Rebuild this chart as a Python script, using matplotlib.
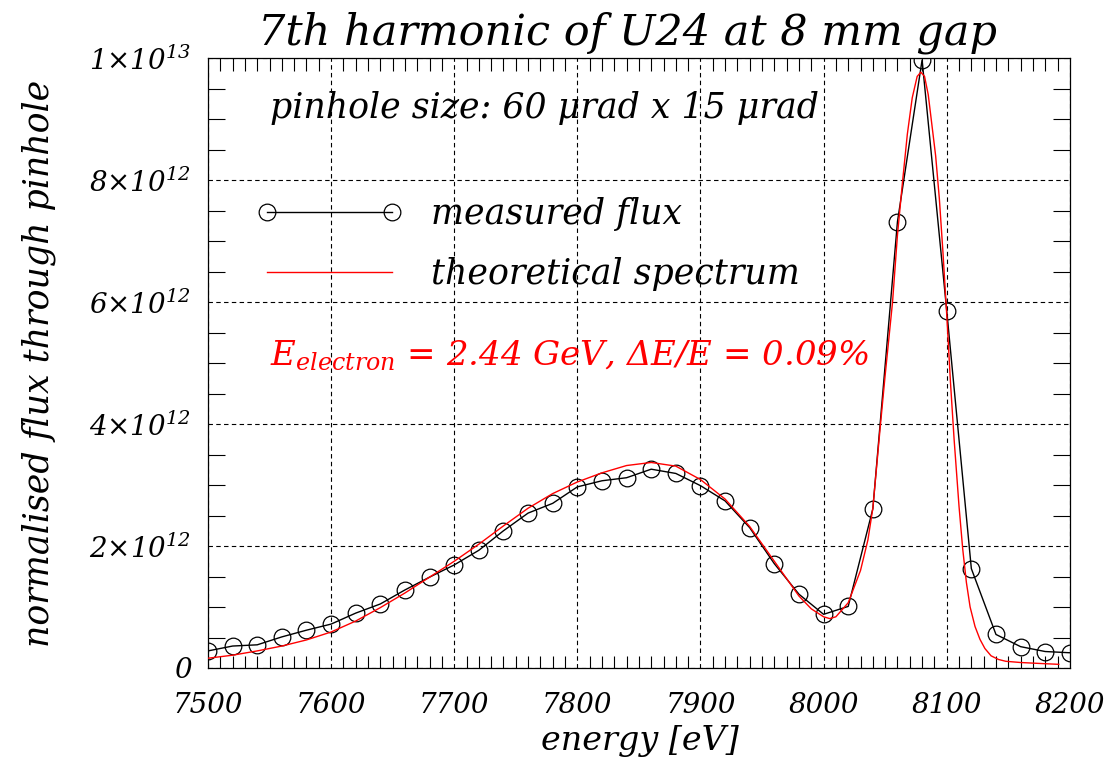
import matplotlib
matplotlib.use("Agg")
import matplotlib.pyplot as plt
from matplotlib.ticker import MultipleLocator, FixedLocator

# measured flux, 20 eV steps (units of 1e12)
energy = [7500, 7520, 7540, 7560, 7580, 7600, 7620, 7640, 7660, 7680,
          7700, 7720, 7740, 7760, 7780, 7800, 7820, 7840, 7860, 7880,
          7900, 7920, 7940, 7960, 7980, 8000, 8020, 8040, 8060, 8080,
          8100, 8120, 8140, 8160, 8180, 8200]
flux_meas = [0.28, 0.36, 0.38, 0.51, 0.62, 0.72, 0.90, 1.05, 1.28, 1.49,
             1.69, 1.93, 2.25, 2.54, 2.70, 2.97, 3.07, 3.12, 3.26, 3.19,
             2.99, 2.74, 2.30, 1.71, 1.21, 0.88, 1.01, 2.61, 7.32, 9.97,
             5.86, 1.63, 0.55, 0.35, 0.27, 0.25]

# theoretical spectrum (units of 1e12)
th_energy = [7500, 7520, 7540, 7560, 7580, 7600, 7620, 7640, 7660, 7680,
             7700, 7720, 7740, 7760, 7780, 7800, 7820, 7840, 7860, 7880,
             7900, 7920, 7940, 7960, 7980, 7990, 8000, 8005, 8010, 8020,
             8030, 8036, 8040, 8046, 8050, 8056, 8060, 8064, 8068, 8072,
             8076, 8079, 8082, 8085, 8088, 8091, 8094, 8097, 8100, 8103,
             8106, 8110, 8113, 8116, 8119, 8123, 8127, 8131, 8136, 8142,
             8148, 8160, 8175, 8191]
th_flux = [0.16, 0.21, 0.28, 0.36, 0.46, 0.59, 0.77, 0.99, 1.23, 1.49,
           1.75, 2.03, 2.33, 2.62, 2.86, 3.05, 3.20, 3.32, 3.37, 3.31,
           3.09, 2.77, 2.32, 1.75, 1.18, 0.97, 0.84, 0.81, 0.84, 1.07,
           1.60, 2.10, 2.62, 3.95, 4.80, 6.00, 7.10, 7.95, 8.75, 9.35,
           9.70, 9.77, 9.70, 9.40, 8.90, 8.40, 7.70, 6.80, 5.80, 4.70,
           3.75, 2.65, 1.95, 1.40, 1.00, 0.68, 0.47, 0.32, 0.20, 0.14,
           0.11, 0.09, 0.075, 0.06]

xticks = [7500, 7600, 7700, 7800, 7900, 8000, 8100, 8200]
yticks = [0, 2e12, 4e12, 6e12, 8e12, 1e13]
ytick_labels = ['0', '2×10$^{12}$', '4×10$^{12}$', '6×10$^{12}$',
                '8×10$^{12}$', '1×10$^{13}$']

plt.rcParams['font.family'] = ['DejaVu Serif']
plt.rcParams['font.style'] = 'italic'
plt.rcParams['mathtext.fontset'] = 'custom'
plt.rcParams['mathtext.rm'] = 'DejaVu Serif:italic'
plt.rcParams['mathtext.it'] = 'DejaVu Serif:italic'

fig = plt.figure(figsize=(11.15, 7.65), dpi=100)
ax = fig.add_axes([0.1865, 0.1268, 0.773, 0.7972])

ax.plot(energy, [v * 1e12 for v in flux_meas], color='black', lw=1.0,
        marker='o', ms=12, mfc='none', mec='black', mew=0.9,
        label='measured flux', zorder=3)
ax.plot(th_energy, [v * 1e12 for v in th_flux], color='red', lw=1.0,
        label='theoretical spectrum', zorder=4)

ax.set_xlim(7500, 8200)
ax.set_ylim(0, 1e13)

ax.xaxis.set_major_locator(FixedLocator(xticks))
ax.set_xticklabels([str(t) for t in xticks])
ax.xaxis.set_minor_locator(MultipleLocator(10))
ax.yaxis.set_major_locator(FixedLocator(yticks))
ax.set_yticklabels(ytick_labels)
ax.yaxis.set_minor_locator(MultipleLocator(5e11))

ax.tick_params(which='both', direction='in', top=True, right=True,
               width=0.8, color='black')
ax.tick_params(which='major', length=0)
ax.tick_params(axis='x', which='major', pad=17, labelsize=20)
ax.tick_params(axis='y', which='major', pad=12, labelsize=20)
ax.tick_params(axis='x', which='minor', length=9)
ax.tick_params(axis='y', which='minor', length=12)
ax.grid(True, which='major', color='black', ls=(0, (4, 3)), lw=0.8)
for s in ax.spines.values():
    s.set_linewidth(0.9)

ax.set_title('7th harmonic of U24 at 8 mm gap', fontsize=31, pad=10, x=0.487)
ax.set_xlabel('energy [eV]', fontsize=24)
ax.set_ylabel('normalised flux through pinhole', fontsize=25)
ax.xaxis.set_label_coords(0.501, -0.094)
ax.yaxis.set_label_coords(-0.176, 0.5)

ax.text(0.072, 0.918, 'pinhole size: 60 μrad x 15 μrad', transform=ax.transAxes,
        fontsize=25, va='center')
ax.text(0.072, 0.512, '$E_{electron}$ = 2.44 GeV, ΔE/E = 0.09%',
        transform=ax.transAxes, fontsize=24.5, va='center', color='red')

ax.legend(loc='upper left', bbox_to_anchor=(0.020, 0.824), frameon=False,
          numpoints=2, handlelength=4.2, handletextpad=0.82, labelspacing=0.77,
          fontsize=25)

fig.savefig('out.png', dpi=100)
